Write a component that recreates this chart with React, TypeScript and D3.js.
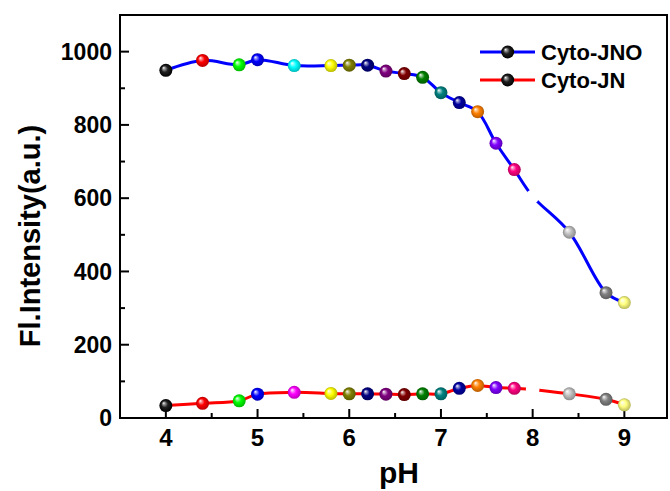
import React from "react";
import * as d3 from "d3";

// pH values of the titration (pH 8 point is drawn white in the original)
const phValues = [4, 4.4, 4.8, 5, 5.4, 5.8, 6, 6.2, 6.4, 6.6, 6.8, 7, 7.2, 7.4, 7.6, 7.8, 8, 8.4, 8.8, 9];
const cytoJNO = [949, 976, 964, 978, 962, 962, 963, 963, 947, 940, 930, 888, 861, 836, 750, 678, 605, 507, 342, 315];
const cytoJN = [34, 40, 47, 65, 70, 67, 66, 66, 65, 64, 66, 66, 81, 89, 83, 81, 78, 66, 51, 36];

const jnoColors = [
  "#000000", "#ff0000", "#00ff00", "#0000ff", "#00ffff", "#ffff00", "#808000", "#000080",
  "#800080", "#800000", "#008000", "#008080", "#0000a0", "#ff8000", "#8000ff", "#ff0080",
  "#ffffff", "#c0c0c0", "#808080", "#ffff80",
];
const jnColors = [
  "#000000", "#ff0000", "#00ff00", "#0000ff", "#ff00ff", "#ffff00", "#808000", "#000080",
  "#800080", "#800000", "#008000", "#008080", "#0000a0", "#ff8000", "#8000ff", "#ff0080",
  "#ffffff", "#c0c0c0", "#808080", "#ffff80",
];

const seriesNames = ["Cyto-JNO", "Cyto-JN"];
const lineColors = ["#0000ff", "#ff0000"];

const xTicks = [4, 5, 6, 7, 8, 9];
const xMinorTicks = [4.5, 5.5, 6.5, 7.5, 8.5];
const yTicks = [0, 200, 400, 600, 800, 1000];
const yMinorTicks = [100, 300, 500, 700, 900];

const W = 670;
const H = 491;
const left = 120, right = 667, top = 15, bottom = 418;
const font = "'Liberation Sans', Arial, sans-serif";

const Ball = ({ cx, cy, color, id }: { cx: number; cy: number; color: string; id: string }) => {
  if (color === "#ffffff") return <circle cx={cx} cy={cy} r={6.8} fill="#ffffff" />;
  return <circle cx={cx} cy={cy} r={6.5} fill={`url(#${id})`} />;
};

const gradId = (c: string) => "g" + c.slice(1);

export default function App() {
  const x = d3.scaleLinear().domain([3.5, 9.465]).range([left, right]);
  const y = d3.scaleLinear().domain([0, 1100]).range([bottom, top]);

  const line = d3
    .line<[number, number]>()
    .x((d) => x(d[0]))
    .y((d) => y(d[1]))
    .curve(d3.curveCatmullRom.alpha(0.5));

  const series = [cytoJNO, cytoJN];
  const colorSets = [jnoColors, jnColors];
  const allColors = Array.from(new Set([...jnoColors, ...jnColors]));

  return (
    <svg width={W} height={H} style={{ position: "absolute", left: 0, top: 0, background: "#fff" }}>
      <defs>
        {allColors.map((c) => {
          const col = d3.color(c)!;
          const light = d3.interpolateRgb(c, "#ffffff")(0.6);
          const dark = c === "#000000" ? "#000000" : col.darker(0.9).formatHex();
          return (
            <radialGradient key={c} id={gradId(c)} cx="50%" cy="50%" r="50%" fx="32%" fy="30%">
              <stop offset="0%" stopColor="#ffffff" />
              <stop offset="18%" stopColor={c === "#000000" ? "#9a9a9a" : light} />
              <stop offset="50%" stopColor={c === "#000000" ? "#202020" : c} />
              <stop offset="100%" stopColor={dark} />
            </radialGradient>
          );
        })}
      </defs>

      {/* frame */}
      <rect x={left} y={top} width={right - left} height={bottom - top} fill="none" stroke="#000" strokeWidth={2} />

      {/* y ticks */}
      {yTicks.map((t) => (
        <g key={"yt" + t}>
          <line x1={left} x2={left + 9} y1={y(t)} y2={y(t)} stroke="#000" strokeWidth={2} />
          <text x={112} y={y(t)} dy="0.36em" textAnchor="end" fontFamily={font} fontWeight="bold" fontSize={23}>
            {t}
          </text>
        </g>
      ))}
      {yMinorTicks.map((t) => (
        <line key={"ym" + t} x1={left} x2={left + 5} y1={y(t)} y2={y(t)} stroke="#000" strokeWidth={2} />
      ))}

      {/* x ticks */}
      {xTicks.map((t) => (
        <g key={"xt" + t}>
          <line x1={x(t)} x2={x(t)} y1={bottom} y2={bottom - 9} stroke="#000" strokeWidth={2} />
          <text x={x(t)} y={446} textAnchor="middle" fontFamily={font} fontWeight="bold" fontSize={24}>
            {t}
          </text>
        </g>
      ))}
      {xMinorTicks.map((t) => (
        <line key={"xm" + t} x1={x(t)} x2={x(t)} y1={bottom} y2={bottom - 5} stroke="#000" strokeWidth={2} />
      ))}

      {/* axis titles */}
      <text x={399} y={483} textAnchor="middle" fontFamily={font} fontWeight="bold" fontSize={30}>
        pH
      </text>
      <text
        transform={`translate(30,236) rotate(-90)`}
        textAnchor="middle"
        dominantBaseline="central"
        fontFamily={font}
        fontWeight="bold"
        fontSize={29}
      >
        Fl.Intensity(a.u.)
      </text>

      {/* lines */}
      {series.map((s, i) => (
        <path
          key={"l" + i}
          d={line(phValues.map((p, j) => [p, s[j]] as [number, number])) || ""}
          fill="none"
          stroke={lineColors[i]}
          strokeWidth={3}
        />
      ))}

      {/* balls */}
      {series.map((s, i) =>
        phValues.map((p, j) => (
          <Ball key={`b${i}-${j}`} cx={x(p)} cy={y(s[j])} color={colorSets[i][j]} id={gradId(colorSets[i][j])} />
        ))
      )}

      {/* legend */}
      {seriesNames.map((name, i) => {
        const ly = 52 + i * 28;
        return (
          <g key={"lg" + i}>
            <line x1={480} x2={535} y1={ly} y2={ly} stroke={lineColors[i]} strokeWidth={3} />
            <Ball cx={507.7} cy={ly} color="#000000" id={gradId("#000000")} />
            <text x={541} y={ly + 8} fontFamily={font} fontWeight="bold" fontSize={22}>
              {name}
            </text>
          </g>
        );
      })}
    </svg>
  );
}
